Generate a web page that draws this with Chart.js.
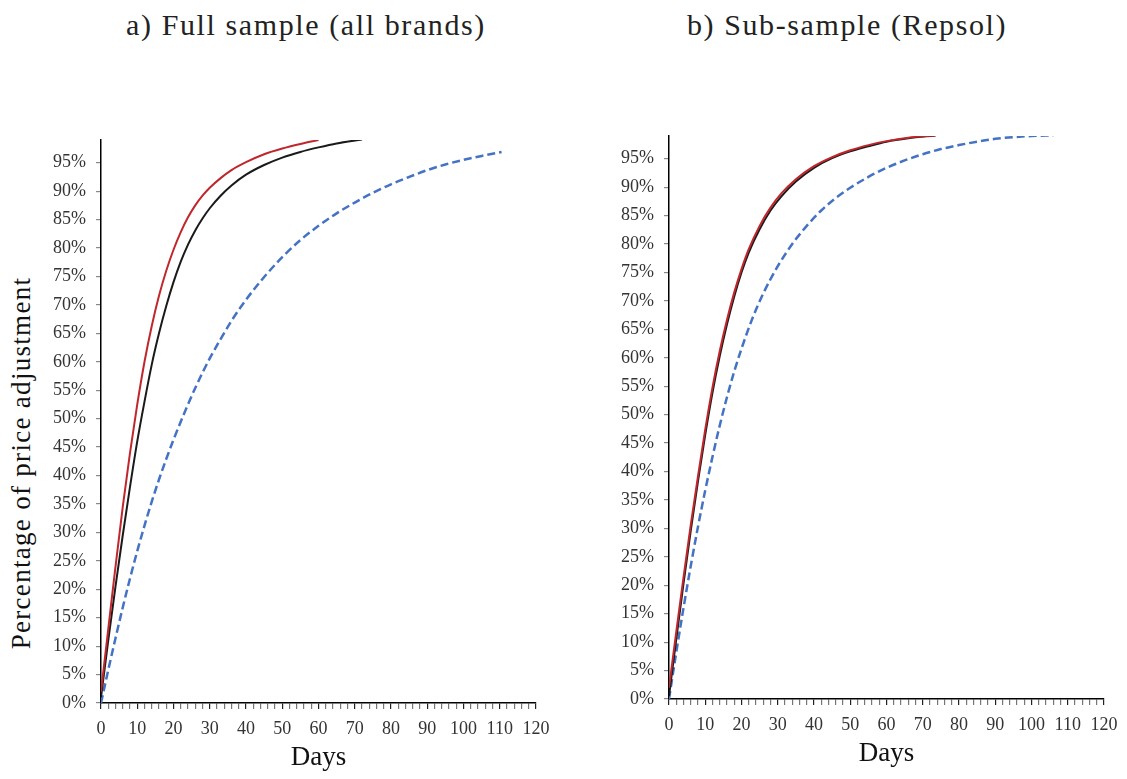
<!DOCTYPE html>
<html>
<head>
<meta charset="utf-8">
<script src="https://cdn.jsdelivr.net/npm/chart.js@4.4.1/dist/chart.umd.min.js"></script>
<style>
html,body{margin:0;padding:0;background:#fff;}
body{width:1127px;height:779px;position:relative;overflow:hidden;font-family:"Liberation Serif",serif;}
canvas{position:absolute;top:0;}
#ca{left:0;}
#cb{left:563px;}
.title{position:absolute;top:10px;font-size:30px;line-height:30px;letter-spacing:1.6px;color:#222;white-space:nowrap;transform:translateX(-50%);}
#ylab{position:absolute;left:21px;top:463px;font-size:27px;line-height:27px;letter-spacing:1.3px;color:#111;white-space:nowrap;transform:translate(-50%,-50%) rotate(-90deg);}
</style>
</head>
<body>
<div class="title" id="ta" style="left:306px;">a) Full sample (all brands)</div>
<div class="title" id="tb" style="left:847px;">b) Sub-sample (Repsol)</div>
<div id="ylab">Percentage of price adjustment</div>
<canvas id="ca" width="563" height="779"></canvas>
<canvas id="cb" width="564" height="779"></canvas>
<script>
// ---- Data (days, % of price adjustment) ----
// Panel a) Full sample (all brands)
const aRedDays   = [0,2,4,6,8,10,12,14,16,18,20,22,24,26,28,30,33,36,40,45,50,55,60];
const aRedPct    = [2,13,24,34.5,44,52.5,60,66.3,71.6,76,79.7,82.8,85.4,87.5,89.2,90.6,92.3,93.7,95.1,96.5,97.5,98.3,99];
const aBlackDays = [0,2,4,6,8,10,12,14,16,18,20,22,24,26,28,30,33,36,40,45,50,55,60,65,72];
const aBlackPct  = [1,11,20.5,29.5,38,46,53,59.5,65,69.8,74,77.6,80.6,83.1,85.2,87,89.2,91,92.9,94.6,95.9,96.9,97.7,98.4,99.1];
const aBlueDays  = [0,2,4,6,8,10,12,14,16,18,20,23,26,30,33,36,40,45,50,55,60,65,70,75,80,85,90,95,100,105,110.5];
const aBluePct   = [0,5.8,11.4,16.8,21.9,26.7,31.2,35.4,39.3,42.9,46.3,51,55.4,60.6,64,67.2,70.9,74.9,78.4,81.4,83.9,86.1,88,89.7,91.2,92.5,93.7,94.7,95.5,96.2,96.9];
// Panel b) Sub-sample (Repsol)
const bRedDays   = [0,2,4,6,8,10,12,14,16,18,20,22,25,28,31,35,40,45,50,55,60,66,73.5];
const bRedPct    = [2,11.8,21.4,30.6,39.2,47.4,54.8,61.2,66.7,71.5,75.6,79.1,83.2,86.4,88.9,91.4,93.7,95.3,96.5,97.4,98.1,98.7,99.1];
const bBlackDays = [0,2,4,6,8,10,12,14,16,18,20,22,25,28,31,35,40,45,50,55,60,66,73.5];
const bBlackPct  = [0.5,10.5,20.3,29.6,38.3,46.5,53.9,60.3,65.9,70.8,75,78.5,82.6,85.9,88.4,91,93.4,95.1,96.3,97.2,98,98.6,99.1];
const bBlueDays  = [0,2,4,6,8,10,12,14,16,18,20,23,26,30,34,38,42,46,50,55,60,65,70,75,80,85,90,95,100,106];
const bBluePct   = [0,8.2,16,23.4,30.3,36.7,42.6,48.1,53.1,57.6,61.6,66.9,71.3,76.1,80,83.2,85.9,88.1,89.9,91.8,93.4,94.7,95.8,96.7,97.4,98,98.5,98.8,99,99.1];

// Axis settings
const xMin = 0, xMax = 120, xMinorStep = 2, xLabelStep = 10;
const yMin = 0, yMax = 99, yStep = 5;

const FONT = '"Liberation Serif", "Times New Roman", serif';

function pts(xs, ys){ return xs.map((x,i)=>({x:x, y:ys[i]})); }

function makeChart(id, series, geom){
  const ctx = document.getElementById(id).getContext('2d');
  return new Chart(ctx, {
    type: 'line',
    data: {
      datasets: [
        {data: pts(series.redX, series.redY), borderColor:'#c0272d', borderWidth:2, pointRadius:0, cubicInterpolationMode:'monotone', fill:false},
        {data: pts(series.blackX, series.blackY), borderColor:'#1a1a1a', borderWidth:2, pointRadius:0, cubicInterpolationMode:'monotone', fill:false},
        {data: pts(series.blueX, series.blueY), borderColor:'#4472c4', borderWidth:2.5, borderDash:[8,4], pointRadius:0, cubicInterpolationMode:'monotone', fill:false}
      ]
    },
    options: {
      responsive:false, animation:false, devicePixelRatio:1,
      layout:{padding:{top:geom.top, right:geom.right, left:0, bottom:0}},
      plugins:{legend:{display:false}, tooltip:{enabled:false}, title:{display:false}},
      scales:{
        x:{
          type:'linear', min:xMin, max:xMax,
          afterFit: s => { s.height = geom.xh; },
          ticks:{stepSize:xMinorStep, autoSkip:false, maxRotation:0, minRotation:0, padding:9,
            color:'#333', font:{family:FONT, size:18},
            callback: v => (Math.round(v) % xLabelStep === 0 ? String(Math.round(v)) : '')},
          grid:{display:true, drawOnChartArea:false, drawTicks:true, tickLength:6,
            color: c => (c.tick && Math.round(c.tick.value) % xLabelStep === 0 ? '#222' : '#777'), lineWidth:1.2},
          border:{display:true, color:'#000', width:1.5},
          title:{display:true, text:'Days', color:'#111', font:{family:FONT, size:27}, padding:{top:0, bottom:geom.tb}}
        },
        y:{
          type:'linear', min:yMin, max:yMax,
          afterFit: s => { s.width = geom.yw; },
          afterBuildTicks: s => { s.ticks = s.ticks.filter(t => Math.round(t.value) % yStep === 0 && t.value <= 95); },
          ticks:{stepSize:yStep, autoSkip:false, padding:10, color:'#333', font:{family:FONT, size:18},
            callback: v => Math.round(v) + '%'},
          grid:{display:true, drawOnChartArea:false, drawTicks:true, tickLength:5, color:'#888', lineWidth:1.2},
          border:{display:true, color:'#000', width:1.5}
        }
      }
    }
  });
}

makeChart('ca', {redX:aRedDays, redY:aRedPct, blackX:aBlackDays, blackY:aBlackPct, blueX:aBlueDays, blueY:aBluePct},
  {top:140, right:27, xh:76, yw:101, tb:5});
makeChart('cb', {redX:bRedDays, redY:bRedPct, blackX:bBlackDays, blackY:bBlackPct, blueX:bBlueDays, blueY:bBluePct},
  {top:136, right:23, xh:80, yw:106, tb:9});
</script>
</body>
</html>
